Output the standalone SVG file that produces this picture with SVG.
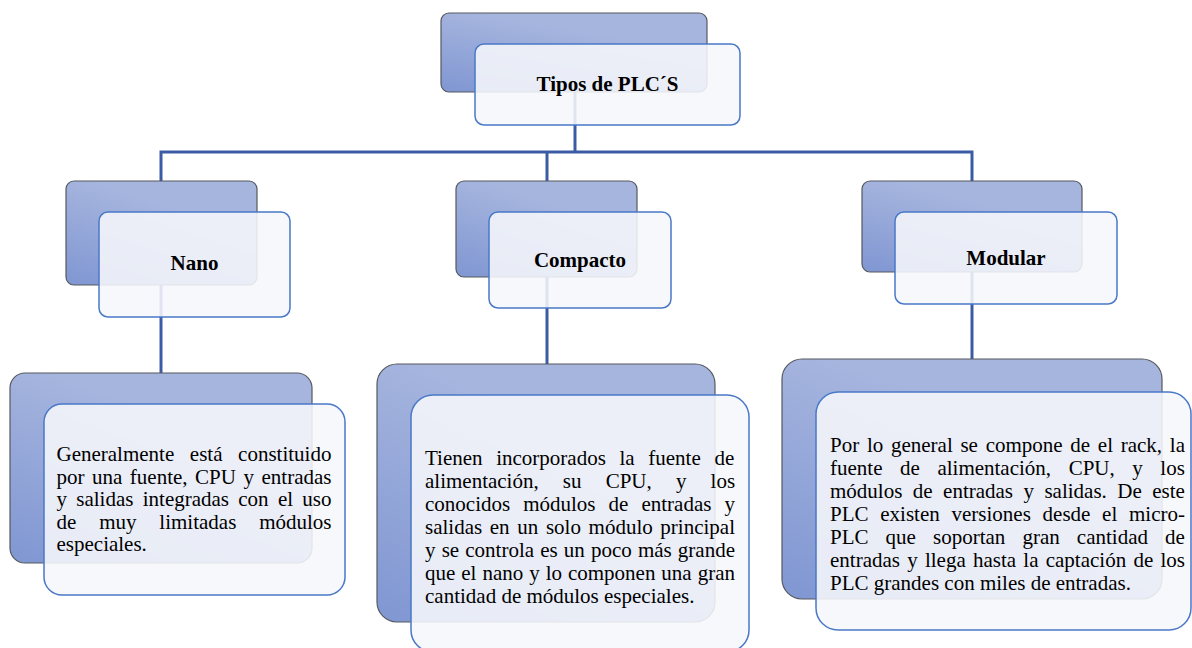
<svg xmlns="http://www.w3.org/2000/svg" width="1192" height="648" viewBox="0 0 1192 648">
  <defs>
    <linearGradient id="backFill" x1="0.55" y1="0.25" x2="0.1" y2="1">
      <stop offset="0" stop-color="#a6b5de"/>
      <stop offset="1" stop-color="#8298d3"/>
    </linearGradient>
    <style>
      .back { fill: url(#backFill); stroke: #56595f; stroke-width: 1.2; }
      .front { fill: #f6f7fb; fill-opacity: 0.88; stroke: #4a78c8; stroke-width: 1.5; }
      .link { fill: none; stroke: #3b5ca5; stroke-width: 3; }
      .title { font-family: "Liberation Serif", "Times New Roman", serif; font-weight: bold; font-size: 21px; fill: #000; text-anchor: middle; }
      .body { font-family: "Liberation Serif", "Times New Roman", serif; font-size: 21px; fill: #000; }
    </style>
  </defs>
  <rect width="1192" height="648" fill="#ffffff"/>

  <!-- connectors (drawn first, partially hidden by the boxes) -->
  <g id="connectors">
    <path class="link" d="M575 60 V152"/>
    <path class="link" d="M161 181 V152 H972 V181"/>
    <path class="link" d="M547 152 V181"/>
    <path class="link" d="M161 181 V373"/>
    <path class="link" d="M547 181 V364"/>
    <path class="link" d="M972 181 V359"/>
  </g>

  <!-- root -->
  <g id="node-tipos">
    <rect class="back" x="441" y="13" width="266" height="79" rx="8"/>
    <rect class="front" x="475" y="44" width="265" height="81" rx="9"/>
    <text class="title" x="607.5" y="91">Tipos de PLC´S</text>
  </g>

  <!-- level 1 -->
  <g id="node-nano">
    <rect class="back" x="66" y="181" width="191" height="104" rx="8"/>
    <rect class="front" x="99" y="212" width="191" height="105" rx="9"/>
    <text class="title" x="194.5" y="270">Nano</text>
  </g>
  <g id="node-compacto">
    <rect class="back" x="456" y="181" width="181" height="96" rx="8"/>
    <rect class="front" x="489" y="212" width="182" height="96" rx="9"/>
    <text class="title" x="580" y="267">Compacto</text>
  </g>
  <g id="node-modular">
    <rect class="back" x="862" y="181" width="220" height="91" rx="8"/>
    <rect class="front" x="895" y="212" width="222" height="92" rx="9"/>
    <text class="title" x="1006" y="265">Modular</text>
  </g>

  <!-- level 2: descriptions -->
  <g id="node-nano-desc">
    <rect class="back" x="10" y="373" width="302" height="190" rx="15"/>
    <rect class="front" x="44" y="404" width="301" height="191" rx="18"/>
    <text class="body" x="56.5" y="461" word-spacing="10.35">Generalmente está constituido</text>
    <text class="body" x="56.5" y="483.5" word-spacing="2.27">por una fuente, CPU y entradas</text>
    <text class="body" x="56.5" y="506" word-spacing="4.03">y salidas integradas con el uso</text>
    <text class="body" x="56.5" y="528.5" word-spacing="17.6">de muy limitadas módulos</text>
    <text class="body" x="56.5" y="551">especiales.</text>
  </g>
  <g id="node-compacto-desc">
    <rect class="back" x="377" y="364" width="338" height="258" rx="20"/>
    <rect class="front" x="411" y="395" width="338" height="257" rx="22"/>
    <text class="body" x="425" y="465" word-spacing="8.4">Tienen incorporados la fuente de</text>
    <text class="body" x="425" y="488" word-spacing="18.9">alimentación, su CPU, y los</text>
    <text class="body" x="425" y="511" word-spacing="7.8">conocidos módulos de entradas y</text>
    <text class="body" x="425" y="534" word-spacing="2.39">salidas en un solo módulo principal</text>
    <text class="body" x="425" y="557" word-spacing="0.88">y se controla es un poco más grande</text>
    <text class="body" x="425" y="580" word-spacing="0.71">que el nano y lo componen una gran</text>
    <text class="body" x="425" y="603">cantidad de módulos especiales.</text>
  </g>
  <g id="node-modular-desc">
    <rect class="back" x="782" y="359" width="380" height="240" rx="20"/>
    <rect class="front" x="816" y="392" width="375" height="238" rx="22"/>
    <text class="body" x="830" y="452" word-spacing="2.46">Por lo general se compone de el rack, la</text>
    <text class="body" x="830" y="475" word-spacing="12.3">fuente de alimentación, CPU, y los</text>
    <text class="body" x="830" y="498" word-spacing="5.2">módulos de entradas y salidas. De este</text>
    <text class="body" x="830" y="521" word-spacing="6.5">PLC existen versiones desde el micro-</text>
    <text class="body" x="830" y="544" word-spacing="11.85">PLC que soportan gran cantidad de</text>
    <text class="body" x="830" y="567" word-spacing="1.98">entradas y llega hasta la captación de los</text>
    <text class="body" x="830" y="590">PLC grandes con miles de entradas.</text>
  </g>
</svg>
